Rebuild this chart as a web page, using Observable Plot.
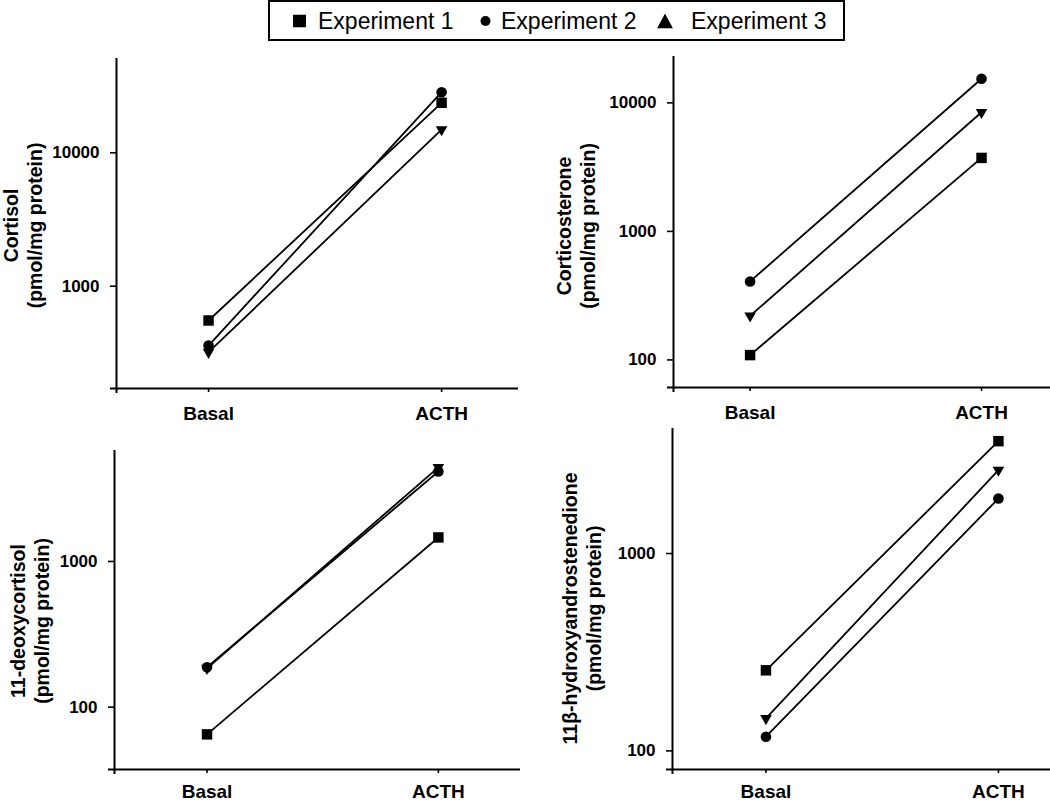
<!DOCTYPE html>
<html>
<head>
<meta charset="utf-8">
<script src="https://cdn.jsdelivr.net/npm/d3@7"></script>
<script src="https://cdn.jsdelivr.net/npm/@observablehq/plot@0.6"></script>
<style>
  body { margin: 0; background: #fff; font-family: "Liberation Sans", Arial, sans-serif; }
  #root { position: relative; width: 1050px; height: 802px; overflow: hidden; background: #fff; }
  .panel { position: absolute; }
  #legend { position: absolute; left: 268px; top: 0px; width: 577px; height: 41px; border: 2px solid #000; box-sizing: border-box; }
  #legend .item { position: absolute; top: 50%; transform: translateY(-50%); font-size: 23px; line-height: 1; color: #000; white-space: nowrap; }
  #legend svg { position: absolute; top: 50%; transform: translateY(-50%); }
</style>
</head>
<body>
<div id="root">
  <div id="legend"></div>
</div>
<script>
// ---- data ----
const categories = ["Basal", "ACTH"];
const experiments = ["Experiment 1", "Experiment 2", "Experiment 3"];

const cortisolBasal = [553, 359, 320];
const cortisolACTH = [23700, 28450, 14900];

const corticosteroneBasal = [109, 408, 220];
const corticosteroneACTH = [3730, 15400, 8450];

const deoxycortisolBasal = [65, 188, 185];
const deoxycortisolACTH = [1462, 4150, 4430];

const hydroxyandrostenedioneBasal = [256, 118, 146];
const hydroxyandrostenedioneACTH = [3710, 1900, 2645];

const panelTitles = [
  "Cortisol\n(pmol/mg protein)",
  "Corticosterone\n(pmol/mg protein)",
  "11-deoxycortisol\n(pmol/mg protein)",
  "11β-hydroxyandrostenedione\n(pmol/mg protein)"
];
const yTicksCortisol = [1000, 10000];
const yTicksCorticosterone = [100, 1000, 10000];
const yTicksDeoxy = [100, 1000];
const yTicksHydroxy = [100, 1000];

// ---- legend ----
const legend = document.getElementById("legend");
legend.innerHTML = `
  <svg width="13" height="13" style="left:23px"><rect x="0" y="0" width="13" height="13" fill="#000"/></svg>
  <span class="item" style="left:48px">${experiments[0]}</span>
  <svg width="11" height="11" style="left:210px"><circle cx="5.5" cy="5.5" r="5" fill="#000"/></svg>
  <span class="item" style="left:231px">${experiments[1]}</span>
  <svg width="16" height="15" style="left:387px"><polygon points="8,0 16,15 0,15" fill="#000"/></svg>
  <span class="item" style="left:421px">${experiments[2]}</span>
`;

// ---- panels ----
function rowsOf(basal, acth) {
  return experiments.flatMap((e, i) => [
    {exp: e, x: 1, v: basal[i]},
    {exp: e, x: 2, v: acth[i]}
  ]);
}

function makePanel(cfg) {
  const rows = rowsOf(cfg.basal, cfg.acth);
  const byExp = (e) => rows.filter(d => d.exp === e);
  const plot = Plot.plot({
    width: cfg.width,
    height: cfg.height,
    marginLeft: cfg.ml,
    marginRight: cfg.mr,
    marginTop: cfg.mt,
    marginBottom: cfg.mb,
    style: {fontFamily: "Liberation Sans, Arial, sans-serif", fontWeight: "bold", color: "#000", background: "transparent", overflow: "visible"},
    x: {type: "linear", domain: cfg.xDomain},
    y: {type: "log", domain: cfg.yDomain},
    marks: [
      Plot.axisY(cfg.yTicks, {tickSize: 6, tickPadding: 11, fontSize: 17, label: null, tickFormat: d => String(d), strokeWidth: 1.6}),
      Plot.axisX([1, 2], {tickSize: 4, tickPadding: cfg.xpad, fontSize: 19, label: null, tickFormat: d => categories[d - 1], strokeWidth: 1.6}),
      Plot.ruleX([cfg.xDomain[0]], {stroke: "#000", strokeWidth: 2, insetBottom: -5}),
      Plot.ruleY([cfg.yDomain[0]], {stroke: "#000", strokeWidth: 2, insetLeft: -6}),
      Plot.line(rows, {x: "x", y: "v", z: "exp", stroke: "#000", strokeWidth: 1.8}),
      Plot.dot(byExp(experiments[2]), {x: "x", y: "v", symbol: "triangle", r: 4.3, rotate: 180, fill: "#000", stroke: "none"}),
      Plot.dot(byExp(experiments[1]), {x: "x", y: "v", symbol: "circle", r: 5.3, fill: "#000", stroke: "none"}),
      Plot.dot(byExp(experiments[0]), {x: "x", y: "v", symbol: "square", r: 5.9, fill: "#000", stroke: "none"}),
      Plot.text([cfg.title], {frameAnchor: "left", rotate: -90, dx: cfg.tdx, dy: cfg.tdy, fontSize: 19.5, lineHeight: 1.2, textAnchor: "middle", lineAnchor: "middle", fill: "#000"})
    ]
  });
  const wrap = document.createElement("div");
  wrap.className = "panel";
  wrap.style.left = cfg.left + "px";
  wrap.style.top = cfg.top + "px";
  wrap.appendChild(plot);
  document.getElementById("root").appendChild(wrap);
}

makePanel({title: panelTitles[0], basal: cortisolBasal, acth: cortisolACTH, yTicks: yTicksCortisol,
  left: 0, top: 40, width: 525, height: 385, ml: 116, mr: 7, mt: 18, mb: 37, xpad: 14,
  xDomain: [0.605, 2.33], yDomain: [171, 50900], tdx: -94, tdy: 2});

makePanel({title: panelTitles[1], basal: corticosteroneBasal, acth: corticosteroneACTH, yTicks: yTicksCorticosterone,
  left: 525, top: 40, width: 525, height: 385, ml: 148, mr: 0, mt: 16, mb: 38, xpad: 14,
  xDomain: [0.669, 2.298], yDomain: [61, 22950], tdx: -98, tdy: 4});

makePanel({title: panelTitles[2], basal: deoxycortisolBasal, acth: deoxycortisolACTH, yTicks: yTicksDeoxy,
  left: 0, top: 425, width: 525, height: 377, ml: 114, mr: 5, mt: 25, mb: 33, xpad: 11,
  xDomain: [0.6, 2.355], yDomain: [37.3, 5780], tdx: -85, tdy: 11});

makePanel({title: panelTitles[3], basal: hydroxyandrostenedioneBasal, acth: hydroxyandrostenedioneACTH, yTicks: yTicksHydroxy,
  left: 525, top: 425, width: 525, height: 377, ml: 147, mr: 0, mt: 3, mb: 33, xpad: 11,
  xDomain: [0.598, 2.224], yDomain: [80.5, 4300], tdx: -91, tdy: 9.5});
</script>
</body>
</html>
